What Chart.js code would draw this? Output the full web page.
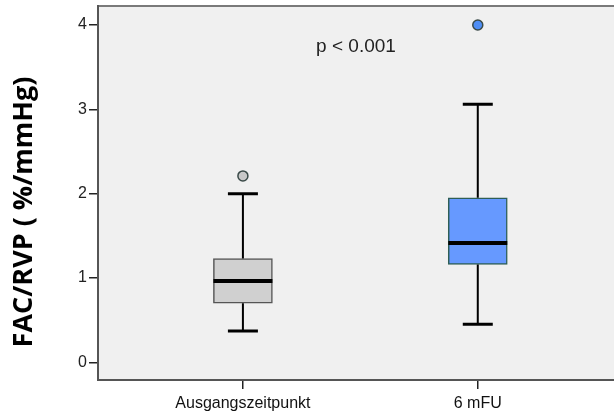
<!DOCTYPE html>
<html>
<head>
<meta charset="utf-8">
<script src="https://cdn.jsdelivr.net/npm/chart.js@4.4.1/dist/chart.umd.min.js"></script>
<style>
html,body{margin:0;padding:0;background:#fff;}
#wrap{width:614px;height:414px;position:relative;}
</style>
</head>
<body>
<div id="wrap"><canvas id="c" width="614" height="414"></canvas></div>
<script>
const categories = ["Ausgangszeitpunkt", "6 mFU"];
const positions = [1, 2];
const whiskerLow = [0.37, 0.45];
const q1 = [0.70, 1.16];
const median = [0.965, 1.415];
const q3 = [1.23, 1.95];
const whiskerHigh = [2.00, 3.06];
const outliers = [[2.21], [4.00]];
const yTicks = [0, 1, 2, 3, 4];
const annotation = "p < 0.001";
const yTitle = "FAC/RVP ( %/mmHg)";

const boxFill = ["#d0d0d0", "#6699ff"];
const boxBorder = ["#555555", "#2e5e55"];
const outFill = ["#c8c8c8", "#4f8ef5"];

const plotBg = {
  id: "plotBg",
  beforeDraw(chart) {
    const {ctx, chartArea: a} = chart;
    ctx.save();
    ctx.fillStyle = "#f0f0f0";
    ctx.fillRect(a.left, a.top, a.right - a.left, a.bottom - a.top);
    ctx.strokeStyle = "#7a7a7a";
    ctx.lineWidth = 2;
    ctx.beginPath();
    ctx.moveTo(a.left, a.top);
    ctx.lineTo(a.right, a.top);
    ctx.stroke();
    ctx.restore();
  },
  afterDatasetsDraw(chart) {
    const {ctx} = chart;
    const xs = chart.scales.x, ys = chart.scales.y;
    ctx.save();
    ctx.strokeStyle = "#000";
    for (let i = 0; i < positions.length; i++) {
      const x = xs.getPixelForValue(positions[i]);
      const half = 29.5;
      ctx.lineWidth = 2;
      ctx.beginPath();
      ctx.moveTo(x, ys.getPixelForValue(q3[i]));
      ctx.lineTo(x, ys.getPixelForValue(whiskerHigh[i]));
      ctx.moveTo(x, ys.getPixelForValue(q1[i]));
      ctx.lineTo(x, ys.getPixelForValue(whiskerLow[i]));
      ctx.stroke();
      ctx.lineWidth = 3;
      ctx.beginPath();
      ctx.moveTo(x - 15, ys.getPixelForValue(whiskerHigh[i]));
      ctx.lineTo(x + 15, ys.getPixelForValue(whiskerHigh[i]));
      ctx.moveTo(x - 15, ys.getPixelForValue(whiskerLow[i]));
      ctx.lineTo(x + 15, ys.getPixelForValue(whiskerLow[i]));
      ctx.stroke();
      ctx.lineWidth = 4;
      ctx.beginPath();
      ctx.moveTo(x - half, ys.getPixelForValue(median[i]));
      ctx.lineTo(x + half, ys.getPixelForValue(median[i]));
      ctx.stroke();
    }
    ctx.fillStyle = "#222";
    ctx.font = "19px 'Liberation Sans', Arial, sans-serif";
    ctx.textAlign = "center";
    ctx.textBaseline = "middle";
    ctx.fillText(annotation, 356, 47);
    ctx.fillStyle = "#000";
    ctx.font = "bold 27px 'Open Sans', Lato, sans-serif";
    ctx.translate(24, 212);
    ctx.rotate(-Math.PI / 2);
    ctx.fillText(yTitle, 0, 0);
    ctx.restore();
  }
};

const outlierData = [];
const outlierBg = [];
positions.forEach((p, i) => outliers[i].forEach(v => { outlierData.push({x: p, y: v}); outlierBg.push(outFill[i]); }));

new Chart(document.getElementById("c"), {
  data: {
    datasets: [
      {
        type: "bar",
        data: positions.map((p, i) => ({x: p, y: [q1[i], q3[i]]})),
        backgroundColor: boxFill,
        borderColor: boxBorder,
        borderWidth: 1.5,
        borderSkipped: false,
        barThickness: 59,
        order: 2
      },
      {
        type: "scatter",
        data: outlierData,
        pointRadius: 5,
        pointBackgroundColor: outlierBg,
        pointBorderColor: "#3a4a48",
        pointBorderWidth: 1.5,
        order: 1
      }
    ]
  },
  options: {
    responsive: false,
    animation: false,
    layout: {autoPadding: false, padding: {top: 6, right: 0, left: 0, bottom: 0}},
    plugins: {legend: {display: false}, tooltip: {enabled: false}},
    scales: {
      x: {
        type: "linear",
        offset: false,
        min: 0.383,
        max: 2.58,
        afterBuildTicks(s) { s.ticks = positions.map(v => ({value: v})); },
        afterFit(s) { s.height = 34; s.paddingLeft = 0; s.paddingRight = 0; },
        ticks: {
          autoSkip: false,
          maxRotation: 0,
          padding: 5,
          color: "#111",
          font: {family: "'Liberation Sans', Arial, sans-serif", size: 16},
          callback(v) { const i = positions.indexOf(v); return i >= 0 ? categories[i] : ""; }
        },
        grid: {offset: false, drawOnChartArea: false, drawTicks: true, tickLength: 9, color: "#222", lineWidth: 1.5},
        border: {display: true, color: "#555", width: 2}
      },
      y: {
        type: "linear",
        min: -0.21,
        max: 4.225,
        afterBuildTicks(s) { s.ticks = yTicks.map(v => ({value: v})); },
        afterFit(s) { s.width = 98; s.paddingTop = 0; s.paddingBottom = 0; },
        ticks: {
          padding: 2,
          color: "#222",
          font: {family: "'Liberation Sans', Arial, sans-serif", size: 16}
        },
        grid: {drawOnChartArea: false, drawTicks: true, tickLength: 9, color: "#222", lineWidth: 1.5},
        border: {display: true, color: "#555", width: 2},
        title: {display: false}
      }
    }
  },
  plugins: [plotBg]
});
</script>
</body>
</html>
